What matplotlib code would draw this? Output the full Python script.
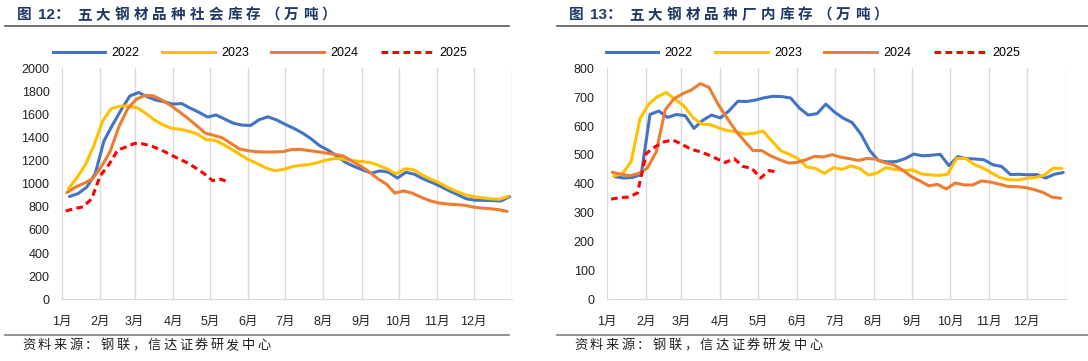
import matplotlib
matplotlib.use("Agg")
import matplotlib.pyplot as plt
from matplotlib.lines import Line2D

plt.rcParams['font.family'] = ['Liberation Sans', 'Noto Sans CJK SC', 'DejaVu Sans']

months = ["1月", "2月", "3月", "4月", "5月", "6月", "7月", "8月", "9月", "10月", "11月", "12月"]
month_start = [0, 31, 59, 90, 120, 151, 181, 212, 243, 273, 304, 334]
years = ["2022", "2023", "2024", "2025"]
first_day = [6, 5, 4, 3]  # day of year of first weekly reading

# 五大钢材品种社会库存 (万吨), weekly
social_2022 = [890, 915, 970, 1090, 1370, 1510, 1640, 1760, 1790, 1755, 1725, 1710, 1690, 1695,
               1655, 1620, 1578, 1596, 1560, 1525, 1508, 1505, 1555, 1580, 1553, 1515, 1480, 1440,
               1390, 1330, 1290, 1240, 1185, 1150, 1120, 1092, 1112, 1100, 1050, 1100, 1082, 1042,
               1012, 978, 940, 905, 870, 858, 857, 855, 851, 889]
social_2023 = [955, 1050, 1165, 1335, 1545, 1652, 1672, 1674, 1658, 1610, 1552, 1510, 1480, 1472,
               1455, 1430, 1382, 1378, 1340, 1295, 1250, 1205, 1172, 1134, 1114, 1125, 1150, 1160,
               1168, 1186, 1208, 1220, 1212, 1200, 1192, 1185, 1158, 1128, 1085, 1130, 1122, 1078,
               1040, 1010, 968, 935, 905, 888, 878, 870, 866, 892]
social_2024 = [924, 972, 1005, 1045, 1150, 1278, 1490, 1645, 1730, 1765, 1762, 1725, 1680, 1625,
               1568, 1505, 1440, 1420, 1398, 1350, 1302, 1286, 1278, 1275, 1276, 1278, 1296, 1298,
               1288, 1278, 1266, 1256, 1241, 1198, 1155, 1105, 1045, 998, 920, 938, 920, 885,
               855, 835, 826, 820, 815, 800, 790, 785, 776, 762]
social_2025 = [765, 785, 800, 870, 1070, 1165, 1290, 1320, 1350, 1345, 1325, 1295, 1258, 1220,
               1185, 1140, 1090, 1028, 1040, 1008]

# 五大钢材品种厂内库存 (万吨), weekly
plant_2022 = [425, 420, 422, 432, 640, 652, 630, 640, 636, 592, 620, 638, 628, 653, 686, 685,
              690, 698, 703, 702, 697, 662, 638, 643, 676, 648, 627, 612, 572, 515, 480, 476,
              477, 487, 503, 497, 499, 502, 463, 494, 487, 486, 483, 466, 460, 432, 433, 431,
              432, 420, 433, 439]
plant_2023 = [427, 435, 477, 625, 676, 702, 716, 692, 670, 630, 607, 605, 593, 584, 580, 572,
              575, 583, 548, 515, 502, 487, 458, 453, 436, 456, 450, 462, 453, 430, 438, 456,
              450, 446, 448, 434, 431, 429, 433, 487, 489, 467, 455, 438, 421, 414, 413, 419,
              422, 430, 454, 453]
plant_2024 = [440, 433, 428, 436, 455, 511, 655, 694, 712, 725, 747, 734, 677, 630, 585, 549,
              515, 515, 497, 484, 472, 474, 483, 495, 493, 501, 492, 487, 481, 488, 485, 473,
              466, 448, 425, 410, 393, 398, 382, 403, 396, 396, 410, 406, 399, 391, 390, 387,
              380, 370, 354, 350]
plant_2025 = [347, 352, 354, 368, 505, 528, 545, 552, 538, 521, 512, 501, 487, 474, 487, 460,
              454, 420, 446, 439]

colors = ["#4472C4", "#FFC000", "#ED7D31", "#FF0000"]
navy = "#1F3864"
cjk = ["Liberation Sans", "Noto Sans CJK SC", "DejaVu Sans"]

fig = plt.figure(figsize=(10.88, 3.61), dpi=100)
W, H = 1088, 361


def spaced(x, y, s, pitch, **kw):
    # the document uses wide character spacing, so place glyphs one by one
    for i, ch in enumerate(s):
        fig.text((x + i * pitch) / W, 1 - y / H, ch, va="center", ha="left", family=cjk, **kw)


def panel(x0, x1, series, ymax, ystep, num, name, tx, line_x0, line_x1, leg_x):
    ax = fig.add_axes([x0 / W, 1 - 299.3 / H, (x1 - x0) / W, (299.3 - 68.3) / H])
    for i, vals in enumerate(series):
        days = [first_day[i] + 7 * k for k in range(len(vals))]
        ls = (0, (2.2, 1.4)) if years[i] == "2025" else "-"
        ax.plot(days, vals, color=colors[i], lw=2.2, ls=ls, solid_capstyle="round",
                label=years[i])
    ax.set_xlim(0, 365)
    ax.set_ylim(0, ymax)
    ax.set_yticks(range(0, ymax + 1, ystep))
    ax.set_xticks(month_start)
    ax.set_xticklabels(months)
    for d in month_start[1:] + [365]:
        ax.axvline(d, color="#D9D9D9", lw=1, zorder=0)
    for s in ["top", "right"]:
        ax.spines[s].set_visible(False)
    ax.spines["left"].set_color("#D9D9D9")
    ax.spines["bottom"].set_color("#D9D9D9")
    ax.tick_params(axis="both", length=0, labelsize=9, colors="#222222")
    ax.tick_params(axis="x", pad=12)
    ax.tick_params(axis="y", pad=9)

    handles = [Line2D([], [], color=colors[i], lw=2.2,
                      ls=(0, (2.2, 1.4)) if i == 3 else "-") for i in range(4)]
    fig.legend(handles, years, loc="center", bbox_to_anchor=(leg_x / W, 1 - 53 / H),
               ncol=4, frameon=False, fontsize=9, handlelength=4.2, handletextpad=0.5,
               columnspacing=1.8)

    # title
    fig.text(tx / W, 1 - 15 / H, "图", fontsize=10.5, fontweight="bold", color=navy,
             va="center", ha="left", family=cjk)
    fig.text((tx + 21) / W, 1 - 15 / H, num + "：", fontsize=11, fontweight="bold",
             color=navy, va="center", ha="left", family=cjk)
    spaced(tx + 60, 15, name, 18.8, fontsize=10.5, fontweight="bold", color=navy)

    fig.add_artist(Line2D([line_x0 / W, line_x1 / W], [1 - 26 / H, 1 - 26 / H],
                          color="#595959", lw=1.2))
    fig.add_artist(Line2D([line_x0 / W, line_x1 / W], [1 - 335 / H, 1 - 335 / H],
                          color="#7F7F7F", lw=1.2))
    spaced(line_x0 + 17, 346, "资料来源：钢联，信达证券研发中心", 15.7,
           fontsize=9.5, color="#222222")
    return ax


panel(62, 512, [social_2022, social_2023, social_2024, social_2025], 2000, 200,
      "12", "五大钢材品种社会库存（万吨）", 17, 5, 509, 260)
panel(607.3, 1065.7, [plant_2022, plant_2023, plant_2024, plant_2025], 800, 100,
      "13", "五大钢材品种厂内库存（万吨）", 569, 557, 1088, 813)

fig.savefig("out.png", dpi=100)
